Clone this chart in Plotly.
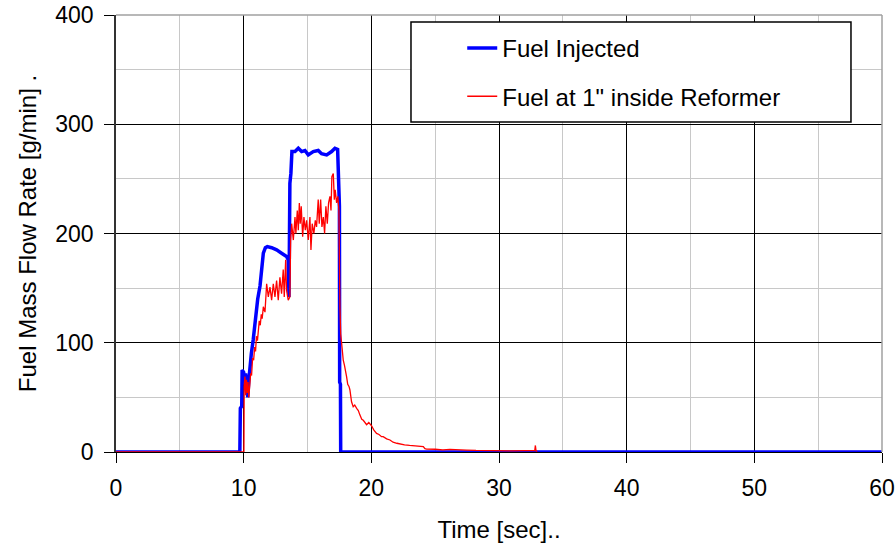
import plotly.graph_objects as go

# Fuel injected into the reformer [g/min] vs time [sec]
inj_time = [0.0, 9.70, 9.74, 9.85, 9.88, 10.00, 10.08, 10.15, 10.25, 10.32, 10.40,
            10.50, 10.60, 10.75, 10.93, 11.10, 11.28, 11.40, 11.54, 11.70, 11.85,
            12.19, 12.58, 12.97, 13.36, 13.49, 13.55, 13.62, 13.70, 13.78, 14.02,
            14.28, 14.54, 14.80, 15.06, 15.45, 15.84, 16.10, 16.50, 16.89, 17.15,
            17.36, 17.44, 17.50, 17.52, 17.58, 17.60, 60.0]
inj_rate = [0, 0, 40, 42, 75, 73, 62, 72, 60, 50, 65,
            80, 90, 103, 125, 140, 152, 170, 182, 187, 188,
            187, 185, 182, 179, 176, 142, 246, 255, 275, 275,
            278, 275, 276, 272, 275, 276, 273, 272, 275, 278,
            277, 237, 225, 64, 62, 0, 0]

# Fuel measured 1" inside the reformer [g/min] vs time [sec]
ref_time = [0.0, 10.02, 10.04, 10.10, 10.16, 10.22, 10.28, 10.34, 10.40, 10.47,
            10.55, 10.62, 10.70, 10.78, 10.86, 10.93, 11.00, 11.08, 11.15, 11.22,
            11.30, 11.38, 11.45, 11.54, 11.67, 11.80, 11.93, 12.06, 12.19, 12.32,
            12.45, 12.58, 12.71, 12.84, 12.97, 13.10, 13.18, 13.29, 13.36, 13.49,
            13.62, 13.68, 13.76, 13.89, 14.02, 14.09, 14.20, 14.28, 14.36, 14.43,
            14.51, 14.62, 14.72, 14.83, 14.93, 15.06, 15.19, 15.27, 15.37, 15.50,
            15.61, 15.71, 15.84, 15.92, 16.03, 16.13, 16.24, 16.34, 16.44, 16.55,
            16.65, 16.76, 16.84, 16.91, 17.02, 17.10, 17.17, 17.28, 17.38, 17.46,
            17.54, 17.55, 17.60, 17.67, 17.73, 17.80, 17.90, 18.00, 18.06, 18.15,
            18.25, 18.32, 18.45, 18.58, 18.70, 18.85, 18.98, 19.10, 19.25, 19.37,
            19.50, 19.63, 19.80, 20.02, 20.20, 20.41, 20.60, 20.80, 20.93, 21.20,
            21.46, 21.70, 22.00, 22.24, 22.60, 23.00, 23.28, 23.70, 24.07, 24.20,
            24.33, 25.00, 25.60, 26.15, 26.80, 27.46, 28.20, 29.00, 30.07, 31.00,
            32.00, 32.80, 32.85, 32.90, 33.00]
ref_rate = [0, 0, 60, 69, 52, 66, 54, 64, 50, 66,
            72, 70, 86, 84, 96, 92, 106, 102, 112, 120,
            116, 126, 122, 133, 128, 154, 142, 151, 139, 154,
            142, 157, 139, 160, 145, 167, 142, 176, 148, 139,
            142, 194, 209, 194, 215, 200, 221, 203, 228, 209,
            225, 197, 215, 203, 212, 194, 215, 185, 209, 200,
            212, 206, 231, 209, 231, 206, 215, 200, 225, 209,
            228, 234, 221, 252, 255, 231, 240, 228, 234, 221,
            133, 121, 108, 100, 92, 84, 79, 70, 69, 62,
            60, 57, 46, 41.5, 43, 40, 38, 34, 30, 29,
            27, 25, 27, 24, 20, 17, 16, 14, 14, 12,
            11, 9, 8, 7.3, 6.5, 6, 5.8, 5.2, 5, 3,
            2.7, 2.5, 2, 2.4, 1.8, 1.8, 1.4, 1.2, 1.2, 1.0,
            1.2, 1.2, 6, 1, 0.5]

FONT = "Liberation Sans, Arial, sans-serif"

fig = go.Figure()
fig.add_trace(go.Scatter(x=inj_time, y=inj_rate, mode="lines", name="Fuel Injected",
                         legendgroup="a", line=dict(color="#0000FF", width=3.5)))
fig.add_trace(go.Scatter(x=ref_time, y=ref_rate, mode="lines",
                         name="Fuel at 1\" inside Reformer", legendgroup="b",
                         line=dict(color="#FF0000", width=1.3)))

# plot-area frame (top / right) and legend box
fig.add_shape(type="line", xref="paper", yref="paper", x0=0, x1=1, y0=1, y1=1,
              line=dict(color="#a0a0a0", width=1.5), layer="above")
fig.add_shape(type="line", xref="paper", yref="paper", x0=1, x1=1, y0=0, y1=1,
              line=dict(color="#a0a0a0", width=1.5), layer="above")
fig.add_shape(type="rect", xref="paper", yref="paper", x0=0.3851, x1=0.9595,
              y0=0.7551, y1=0.984, fillcolor="white",
              line=dict(color="black", width=1.5), layer="above")

fig.update_layout(
    width=895, height=543,
    margin=dict(l=116, r=13, t=15, b=91),
    paper_bgcolor="white", plot_bgcolor="white",
    font=dict(family=FONT, size=23, color="black"),
    showlegend=True,
    legend=dict(x=0.452, y=0.975, xanchor="left", yanchor="top",
                bgcolor="rgba(0,0,0,0)", borderwidth=0,
                font=dict(family=FONT, size=24, color="black"),
                tracegroupgap=14),
    xaxis=dict(range=[0, 60], tick0=0, dtick=10, showgrid=True, gridcolor="black",
               gridwidth=1, minor=dict(dtick=5, showgrid=True, gridcolor="#c8c8c8",
                                       gridwidth=1, ticks=""),
               ticks="outside", ticklen=10, tickcolor="black", showline=True,
               linecolor="black", linewidth=1, zeroline=False, automargin=False,
               tickfont=dict(size=23), ticklabelstandoff=5,
               title=dict(text="Time [sec]..", font=dict(size=24), standoff=21)),
    yaxis=dict(range=[0, 400], tick0=0, dtick=100, showgrid=True, gridcolor="black",
               gridwidth=1, minor=dict(dtick=50, showgrid=True, gridcolor="#c8c8c8",
                                       gridwidth=1, ticks=""),
               ticks="outside", ticklen=10, tickcolor="black", showline=True,
               linecolor="#333333", linewidth=1.5, zeroline=False, automargin=False,
               tickfont=dict(size=23), ticklabelstandoff=6,
               title=dict(text="Fuel Mass Flow Rate [g/min] .", font=dict(size=24),
                          standoff=12)),
)

fig.write_html("out.html")
